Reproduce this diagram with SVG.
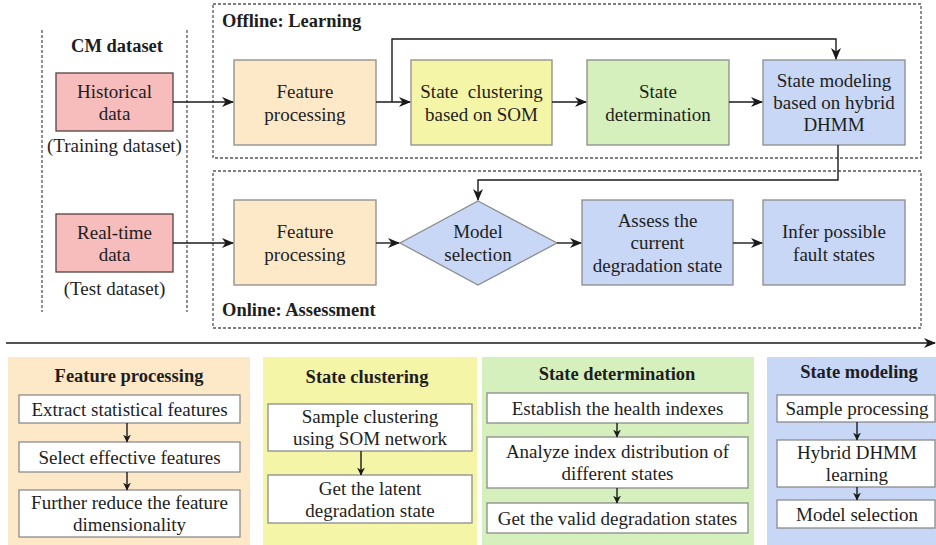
<svg xmlns="http://www.w3.org/2000/svg" width="936" height="545" viewBox="0 0 936 545" font-family="'Liberation Serif', 'Times New Roman', Tinos, 'DejaVu Serif', serif">
  <defs>
    <marker id="arr" viewBox="0 0 12 10" refX="11" refY="5" markerWidth="12" markerHeight="10" markerUnits="userSpaceOnUse" orient="auto">
      <path d="M0,0 L12,5 L0,10 L3.5,5 Z" fill="#1a1a1a"/>
    </marker>
    <marker id="arrs" viewBox="0 0 8 8" refX="7.5" refY="4" markerWidth="8" markerHeight="8" markerUnits="userSpaceOnUse" orient="auto">
      <path d="M0,0 L8,4 L0,8 L2.5,4 Z" fill="#1a1a1a"/>
    </marker>
  </defs>
  <style>
    text { font-family: "Liberation Serif", "Times New Roman", Tinos, "DejaVu Serif", serif; fill: #1e1e1e; font-size: 19px; text-anchor: middle; }
    .b { font-weight: bold; font-size: 18.5px; }
    .lb { text-anchor: start; }
    .dash { fill: none; stroke: #555; stroke-width: 1.3; stroke-dasharray: 3 2; }
    .box { stroke: #8c8c8c; stroke-width: 1.3; }
    .src { fill: #f7bcbc; stroke: #5a4040; stroke-width: 1.3; }
    .peach { fill: #fde9c8; }
    .yellow { fill: #f5f5a8; }
    .green { fill: #d5f0bd; }
    .blue { fill: #c7d7f5; }
    .white { fill: #ffffff; }
    .conn path { fill: none; stroke: #1a1a1a; stroke-width: 1.4; }
    .panel { stroke: none; }
  </style>

  <rect width="936" height="545" fill="#ffffff"/>

  <!-- frames -->
  <g id="frames">
    <line class="dash" x1="42" y1="30" x2="42" y2="312"/>
    <line class="dash" x1="187" y1="30" x2="187" y2="312"/>
    <rect class="dash" x="213" y="4" width="708" height="154"/>
    <rect class="dash" x="213" y="171" width="708" height="157"/>
    <text class="b" x="117" y="52">CM dataset</text>
    <text class="b lb" x="222" y="27">Offline: Learning</text>
    <text class="b lb" x="222" y="316">Online: Assessment</text>
  </g>

  <!-- data sources -->
  <g id="historical">
    <rect class="src" x="56" y="73" width="117" height="58"/>
    <text x="114.5" y="98">Historical</text>
    <text x="114.5" y="120">data</text>
    <text x="114.5" y="152">(Training dataset)</text>
  </g>
  <g id="realtime">
    <rect class="src" x="56" y="214" width="117" height="58"/>
    <text x="114.5" y="239">Real-time</text>
    <text x="114.5" y="261">data</text>
    <text x="114.5" y="295">(Test dataset)</text>
  </g>

  <!-- offline learning -->
  <g id="fp-offline">
    <rect class="box peach" x="234" y="60" width="142" height="85"/>
    <text x="305" y="97.5">Feature</text>
    <text x="305" y="120.5">processing</text>
  </g>
  <g id="clustering">
    <rect class="box yellow" x="411" y="60" width="141" height="85"/>
    <text x="481.5" y="97.5" xml:space="preserve">State  clustering</text>
    <text x="481.5" y="120.5">based on SOM</text>
  </g>
  <g id="determination">
    <rect class="box green" x="587" y="60" width="142" height="85"/>
    <text x="658" y="97.5">State</text>
    <text x="658" y="120.5">determination</text>
  </g>
  <g id="modeling">
    <rect class="box blue" x="763" y="60" width="142" height="85"/>
    <text x="834" y="87">State modeling</text>
    <text x="834" y="109">based on hybrid</text>
    <text x="834" y="131">DHMM</text>
  </g>

  <!-- online assessment -->
  <g id="fp-online">
    <rect class="box peach" x="234" y="200" width="142" height="85"/>
    <text x="305" y="238">Feature</text>
    <text x="305" y="261">processing</text>
  </g>
  <g id="model-selection">
    <polygon class="box blue" points="478,201 557,243 478,285 400,243"/>
    <text x="478" y="238">Model</text>
    <text x="478" y="261">selection</text>
  </g>
  <g id="assess">
    <rect class="box blue" x="582" y="200" width="151" height="85"/>
    <text x="657.5" y="226.5">Assess the</text>
    <text x="657.5" y="249">current</text>
    <text x="657.5" y="271.5">degradation state</text>
  </g>
  <g id="infer">
    <rect class="box blue" x="763" y="200" width="142" height="85"/>
    <text x="834" y="238">Infer possible</text>
    <text x="834" y="261">fault states</text>
  </g>

  <!-- detail panels -->
  <g id="panel-feature">
    <rect class="panel peach" x="8" y="357" width="242" height="188"/>
    <text class="b" x="129" y="382">Feature processing</text>
    <rect class="box white" x="19" y="395" width="221" height="28"/>
    <text x="129.5" y="415.5">Extract statistical features</text>
    <rect class="box white" x="19" y="442" width="221" height="30"/>
    <text x="129.5" y="463.5">Select effective features</text>
    <rect class="box white" x="19" y="490" width="221" height="47"/>
    <text x="129.5" y="509">Further reduce the feature</text>
    <text x="129.5" y="531">dimensionality</text>
  </g>
  <g id="panel-clustering">
    <rect class="panel yellow" x="263" y="357" width="214" height="188"/>
    <text class="b" x="367" y="383">State clustering</text>
    <rect class="box white" x="268" y="404" width="204" height="47"/>
    <text x="370" y="423">Sample clustering</text>
    <text x="370" y="445">using SOM network</text>
    <rect class="box white" x="268" y="475" width="204" height="48"/>
    <text x="370" y="494.5">Get the latent</text>
    <text x="370" y="516.5">degradation state</text>
  </g>
  <g id="panel-determination">
    <rect class="panel green" x="482" y="357" width="272" height="188"/>
    <text class="b" x="617" y="380">State determination</text>
    <rect class="box white" x="487" y="393" width="261" height="30"/>
    <text x="617.5" y="414.5">Establish the health indexes</text>
    <rect class="box white" x="487" y="437" width="261" height="51"/>
    <text x="617.5" y="458">Analyze index distribution of</text>
    <text x="617.5" y="480">different states</text>
    <rect class="box white" x="487" y="503" width="261" height="30"/>
    <text x="617.5" y="524.5">Get the valid degradation states</text>
  </g>
  <g id="panel-modeling">
    <rect class="panel blue" x="767" y="357" width="169" height="188"/>
    <text class="b" x="859" y="378">State modeling</text>
    <rect class="box white" x="777" y="395" width="158" height="27"/>
    <text x="857" y="415">Sample processing</text>
    <rect class="box white" x="777" y="440" width="158" height="47"/>
    <text x="857" y="459">Hybrid DHMM</text>
    <text x="857" y="481">learning</text>
    <rect class="box white" x="777" y="500" width="158" height="28"/>
    <text x="857" y="520.5">Model selection</text>
  </g>

  <!-- connectors -->
  <g id="connectors" class="conn">
    <path d="M173,102 H233" marker-end="url(#arr)"/>
    <path d="M376,102 H410" marker-end="url(#arr)"/>
    <path d="M392,102 V39 H836 V59" marker-end="url(#arr)"/>
    <path d="M552,102 H586" marker-end="url(#arr)"/>
    <path d="M729,102 H762" marker-end="url(#arr)"/>
    <path d="M838,145 V180 H478 V200" marker-end="url(#arr)"/>
    <path d="M173,243 H233" marker-end="url(#arr)"/>
    <path d="M376,243 H399" marker-end="url(#arr)"/>
    <path d="M557,243 H581" marker-end="url(#arr)"/>
    <path d="M733,243 H762" marker-end="url(#arr)"/>
    <path d="M6,343 H935" marker-end="url(#arr)" style="stroke-width:1.6"/>
    <!-- steps inside the detail panels -->
    <path d="M127,423 V442" marker-end="url(#arrs)"/>
    <path d="M127,472 V490" marker-end="url(#arrs)"/>
    <path d="M361,451 V475" marker-end="url(#arrs)"/>
    <path d="M617,423 V437" marker-end="url(#arrs)"/>
    <path d="M617,488 V503" marker-end="url(#arrs)"/>
    <path d="M857,422 V440" marker-end="url(#arrs)"/>
    <path d="M857,487 V500" marker-end="url(#arrs)"/>
  </g>
</svg>
